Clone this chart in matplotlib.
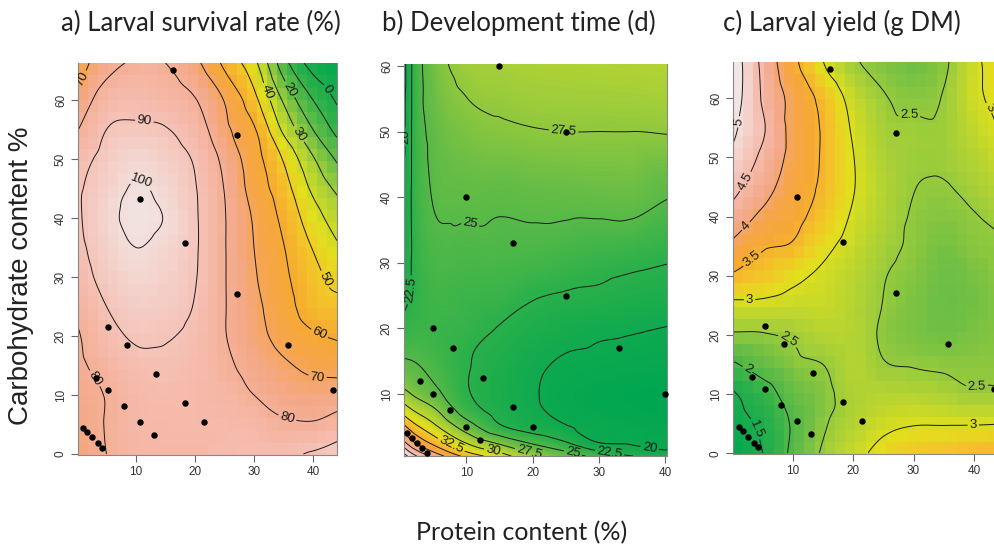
import numpy as np
import matplotlib
matplotlib.use("Agg")
import matplotlib.pyplot as plt
import matplotlib.tri as mtri
from matplotlib.colors import LinearSegmentedColormap

plt.rcParams["font.family"] = "Liberation Sans"

# diets on a dry-matter basis (panels a and c): protein %, carbohydrate %
dm_protein = [16.2, 27.1, 10.7, 18.3, 27.1, 5.3, 35.7, 8.5, 13.4, 3.2, 43.4,
              5.3, 8.0, 18.3, 10.7, 21.5, 13.0, 1.0, 1.7, 2.6, 3.5, 4.2]
dm_carb = [65.0, 54.1, 43.3, 35.7, 27.1, 21.6, 18.4, 18.4, 13.6, 12.9, 10.9,
           10.9, 8.2, 8.7, 5.5, 5.5, 3.3, 4.4, 3.7, 2.8, 1.8, 1.1]

# same diets, as-fed basis (panel b)
af_protein = [15, 25, 10, 17, 25, 5, 33, 8, 12.5, 3, 40,
              5, 7.5, 17, 10, 20, 12, 1, 1.75, 2.5, 3.25, 4]
af_carb = [60, 50, 40, 33, 25, 20, 17, 17, 12.5, 12, 10,
           10, 7.5, 8, 5, 5, 3, 4, 3.25, 2.5, 1.75, 1]

# response surfaces sampled on a coarse grid, one list per protein level
grid_x = [0, 5, 10, 15, 20, 25, 30, 35, 40, 45]
grid_y = [0, 5, 10, 15, 20, 25, 30, 35, 40, 45, 50, 55, 60, 65, 70]

survival = [
    [72, 74.5, 76.5, 78, 79, 82, 85.5, 87.5, 88.5, 88.5, 86, 79.5, 73, 66, 60],
    [80, 80.5, 80.5, 83.5, 87, 90, 93, 95, 97, 95, 93, 90, 85, 78, 73],
    [84, 85, 86, 88, 91, 94, 97, 100, 102.5, 101, 97, 91.5, 87, 82, 77],
    [85, 86, 87, 89, 90.5, 93, 95, 97, 99.5, 97, 94, 90.5, 85, 81, 77],
    [85, 86, 86, 87, 88, 89.5, 90.5, 91, 91, 90.5, 89, 85, 80.5, 74, 68],
    [87, 86, 84, 82, 80.5, 80.5, 80.5, 80.5, 80.5, 79.7, 77.5, 72.5, 69.5, 60, 52],
    [88, 85, 80, 76.5, 73.5, 72.4, 71, 70, 69, 66, 64, 61, 53, 45, 36],
    [88, 81.5, 76, 71.5, 66.6, 64, 62, 60.4, 57.7, 54.2, 49.2, 38, 28.7, 17, 5],
    [91, 81, 74, 67.5, 61.2, 55.2, 52.8, 49.5, 44.5, 38, 31, 20, 10, -1.5, -12],
    [95, 85, 75.5, 66, 58.5, 52.5, 46, 39.5, 33, 26, 16, 4, -4, -10, -15],
]

larval_yield = [
    [1.1, 1.3, 1.45, 1.95, 2.45, 2.9, 3.45, 3.9, 4.3, 4.65, 4.9, 5.1, 5.25, 5.3, 5.3],
    [1.5, 1.6, 1.8, 2.2, 2.47, 2.9, 3.3, 3.55, 3.9, 4.2, 4.4, 4.55, 4.45, 4.4, 4.3],
    [2.1, 2.05, 2.2, 2.4, 2.55, 2.85, 3.1, 3.45, 3.65, 3.75, 3.85, 3.85, 3.85, 3.65, 3.5],
    [2.55, 2.45, 2.4, 2.5, 2.7, 2.85, 2.93, 3.1, 3.3, 3.42, 3.45, 3.45, 3.37, 3.05, 2.9],
    [2.85, 2.7, 2.65, 2.7, 2.7, 2.7, 2.75, 2.85, 2.95, 3.02, 3.01, 2.95, 2.85, 2.6, 2.4],
    [3.15, 2.9, 2.7, 2.52, 2.45, 2.49, 2.52, 2.6, 2.68, 2.7, 2.65, 2.6, 2.53, 2.4, 2.3],
    [3.3, 2.98, 2.7, 2.48, 2.35, 2.35, 2.4, 2.45, 2.47, 2.51, 2.55, 2.55, 2.42, 2.3, 2.2],
    [3.35, 2.98, 2.65, 2.45, 2.3, 2.25, 2.27, 2.32, 2.4, 2.48, 2.55, 2.55, 2.52, 2.45, 2.4],
    [3.45, 2.98, 2.55, 2.45, 2.35, 2.3, 2.33, 2.42, 2.48, 2.6, 2.7, 2.8, 2.9, 2.9, 2.95],
    [3.5, 3.0, 2.55, 2.45, 2.4, 2.4, 2.45, 2.47, 2.6, 2.75, 2.9, 3.05, 3.15, 3.2, 3.2],
]

# development time needs a finer grid near the low-nutrient corner
dev_x = [0, 2, 5, 10, 15, 20, 25, 30, 35, 41]
dev_y = [0, 1, 2.5, 5, 7.5, 10, 15, 20, 25, 30, 40, 50, 61]
dev_time = [
    [48, 46, 42, 36.5, 32, 28.5, 25.3, 23, 21.2, 20.5, 19, 18, 17.5],
    [45, 42, 38, 33.5, 30, 27.3, 25, 23.5, 22.8, 22.8, 23, 23, 23],
    [41, 38, 34.5, 30.7, 28, 25.8, 24.2, 23.5, 23.8, 24.2, 25.1, 25.6, 26.4],
    [36, 33, 30, 26.3, 23.8, 22.8, 22.7, 23.2, 23.6, 24.2, 25.5, 26.8, 28.2],
    [32.5, 30.2, 27.2, 22.9, 21.6, 21.3, 21.6, 22.4, 23.4, 24.2, 25.4, 27.2, 28.5],
    [29, 27.5, 24.8, 21.3, 20.4, 20.2, 20.5, 21.5, 22.7, 24, 25.6, 27.4, 28.8],
    [27.5, 25.5, 22.8, 20.2, 19.4, 19.3, 19.8, 20.8, 22.3, 23.6, 25.7, 27.5, 28.9],
    [25.5, 23.2, 20.1, 19.6, 19, 18.9, 19.6, 20.4, 22.1, 23.2, 25.8, 27.5, 29],
    [24, 21.5, 19.8, 19.2, 18.8, 18.7, 19.4, 20.2, 21.6, 22.9, 25.9, 27.5, 29.1],
    [23, 20.5, 19.5, 19, 18.6, 18.6, 19.2, 19.9, 21.3, 22.5, 25, 27.6, 29.2],
]

terrain = LinearSegmentedColormap.from_list("terrain_like", [
    (0.00, "#00a651"), (0.15, "#2bb04a"), (0.28, "#6dbe45"), (0.36, "#a6cf38"),
    (0.47, "#e2e01c"), (0.54, "#f5c12a"), (0.60, "#f6a932"), (0.66, "#f6a54a"),
    (0.73, "#f4a888"), (0.83, "#f5bcae"), (0.93, "#f3dcd8"), (1.00, "#eeeeee"),
])


def smooth(gx, gy, by_x, xs, ys):
    z = np.asarray(by_x, dtype=float).T
    X, Y = np.meshgrid(gx, gy)
    tri = mtri.Triangulation(X.ravel(), Y.ravel())
    interp = mtri.CubicTriInterpolator(tri, z.ravel(), kind="geom")
    XX, YY = np.meshgrid(xs, ys)
    return XX, YY, interp(XX, YY)


W, H = 995, 548
fig = plt.figure(figsize=(W / 100, H / 100), dpi=100)


def px_axes(left, top, right, bottom):
    return fig.add_axes([left / W, 1 - bottom / H, (right - left) / W, (bottom - top) / H])


def style(ax, xlim, ylim, yticks):
    ax.set_xlim(*xlim)
    ax.set_ylim(*ylim)
    ax.set_xticks([10, 20, 30, 40])
    ax.set_yticks(yticks)
    ax.tick_params(direction="out", length=5, width=0.8, color="#666",
                   labelsize=8.5, labelcolor="#333", pad=3)
    for lab in ax.get_yticklabels():
        lab.set_rotation(90)
        lab.set_va("center")
    ax.spines["top"].set_visible(False)
    for s in ("left", "bottom", "right"):
        ax.spines[s].set_color("#888")
        ax.spines[s].set_linewidth(0.8)


def draw_panel(ax, gx, gy, by_x, xlim, ylim, vmin, vmax, levels, label_pos,
               px, py, cells=None):
    xs = np.linspace(xlim[0] + 1e-3, xlim[1] - 1e-3, 260)
    ys = np.linspace(ylim[0] + 1e-3, ylim[1] - 1e-3, 380)
    XX, YY, ZZ = smooth(gx, gy, by_x, xs, ys)
    if cells:
        ex = np.linspace(xlim[0], xlim[1], cells[0] + 1)
        ey = np.linspace(ylim[0], ylim[1], cells[1] + 1)
        cx = (ex[:-1] + ex[1:]) / 2
        cy = (ey[:-1] + ey[1:]) / 2
        _, _, ZC = smooth(gx, gy, by_x, cx, cy)
        ax.pcolormesh(ex, ey, ZC, cmap=terrain, vmin=vmin, vmax=vmax, shading="flat")
    else:
        ax.pcolormesh(XX, YY, ZZ, cmap=terrain, vmin=vmin, vmax=vmax, shading="gouraud")
    cs = ax.contour(XX, YY, ZZ, levels=levels, colors="#1a1a1a", linewidths=0.7)
    ax.clabel(cs, fmt="%g", fontsize=9.5, inline=True, inline_spacing=2,
              manual=label_pos, colors="#1a1a1a")
    ax.plot(px, py, "o", color="black", ms=3.6, clip_on=False, zorder=5)


# a) survival
ax_a = px_axes(78, 63, 337, 455)
draw_panel(ax_a, grid_x, grid_y, survival, (0.17, 44.07), (-0.17, 66.27), -12, 108,
           np.arange(0, 101, 10),
           [(2.0, 63.0), (11.5, 57), (11, 46.3), (3.3, 13), (31.4, 61.1), (35.9, 61.7),
            (41.8, 61.4), (38.1, 54.6), (41.8, 29.5), (41, 20.2), (40.7, 12.3), (35.6, 6)],
           dm_protein, dm_carb, cells=(26, 32))
style(ax_a, (0.17, 44.07), (-0.17, 66.27), [0, 10, 20, 30, 40, 50, 60])

# b) development time
ax_b = px_axes(404, 64, 667, 456)
draw_panel(ax_b, dev_x, dev_y, dev_time, (0.6, 40.27), (0.55, 60.3), 18.5, 46,
           np.arange(20, 48, 2.5),
           [(24.7, 50.3), (10.6, 36), (1.3, 25.9), (1, 49.2), (7.6, 2), (14.1, 1.5),
            (19.6, 1.5), (26.2, 1.5), (31.7, 1.5), (37.7, 2)],
           af_protein, af_carb)
style(ax_b, (0.6, 40.27), (0.55, 60.3), [10, 20, 30, 40, 50, 60])

# c) larval yield
ax_c = px_axes(733, 62, 998, 454)
draw_panel(ax_c, grid_x, grid_y, larval_yield, (0.05, 44.0), (-0.1, 66.1), 1.1, 5.25,
           np.arange(1.5, 5.01, 0.5),
           [(1.05, 56), (2.5, 45.7), (2.5, 38.1), (3.7, 32.2), (2.8, 26), (8.6, 18.1),
            (2.3, 13.9), (4.2, 4.3), (29.1, 58.6), (42.0, 58.0), (40.5, 12.5), (39.9, 4.6)],
           dm_protein, dm_carb, cells=(26, 32))
style(ax_c, (0.05, 44.0), (-0.1, 66.1), [0, 10, 20, 30, 40, 50, 60])

title_font = dict(family="Lato", fontsize=18.5, color="#222", ha="center", va="center")
fig.text(201 / W, 1 - 23 / H, "a) Larval survival rate (%)", **title_font)
fig.text(519 / W, 1 - 23 / H, "b) Development time (d)", **title_font)
fig.text(842 / W, 1 - 23 / H, "c) Larval yield (g DM)", **title_font)
fig.text(522 / W, 1 - 533 / H, "Protein content (%)", **dict(title_font, fontsize=18))
fig.text(21 / W, 1 - 276 / H, "Carbohydrate content %", rotation=90, ha="center",
         va="center", fontsize=20, color="#222")

fig.savefig("out.png", dpi=100)
